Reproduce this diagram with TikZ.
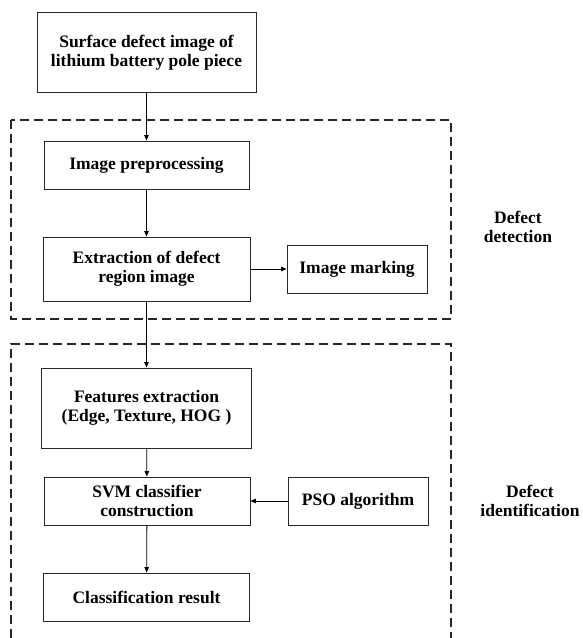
\documentclass[tikz,border=0pt]{standalone}
\usepackage{fontspec}
\setmainfont{Liberation Serif}
\usetikzlibrary{arrows.meta,positioning}

\begin{document}
\begin{tikzpicture}[
  x=1pt, y=-1pt,
  font=\bfseries\fontsize{17.5}{19.5}\selectfont,
  >={Triangle[length=5.5pt,width=4.5pt]},
  blk/.style={
    draw=black!85,
    line width=0.9pt,
    align=center,
    inner sep=2pt,
  },
  frame/.style={
    draw=black!85,
    line width=1.4pt,
    dash pattern=on 9pt off 5pt,
  },
  link/.style={
    ->,
    line width=0.8pt,
  },
]
  \useasboundingbox (0,0) rectangle (583,638);

  % dashed groups
  \draw[frame] (11,120) rectangle (451,319);
  \draw[frame] (11,638) |- (451,344) -- (451,638);

  \node[blk, minimum width=219pt, minimum height=80pt] (src) at (146.5,52.5)
    {Surface defect image of\\lithium battery pole piece};
  \node[blk, minimum width=205pt, minimum height=48pt] (pre) at (146.5,165)
    {Image preprocessing};
  \node[blk, minimum width=207pt, minimum height=64pt] (ext) at (146.5,269)
    {Extraction of defect\\region image};
  \node[blk, minimum width=140pt, minimum height=48pt] (mark) at (357,269)
    {Image marking};
  \node[align=center] (det) at (518,227) {Defect\\detection};

  \node[blk, minimum width=210pt, minimum height=80pt] (feat) at (146.5,408)
    {Features extraction\\(Edge, Texture, HOG )};
  \node[blk, minimum width=206pt, minimum height=48pt] (svm) at (147,501)
    {SVM classifier\\construction};
  \node[blk, minimum width=140pt, minimum height=48pt] (pso) at (358,501)
    {PSO algorithm};
  \node[blk, minimum width=206pt, minimum height=48pt] (cls) at (146.5,597)
    {Classification result};
  \node[align=center] (idf) at (530,501) {Defect\\identification};

  \draw[link] (src) -- (pre);
  \draw[link] (pre) -- (ext);
  \draw[link] (ext) -- (mark);
  \draw[link] (ext) -- (feat);
  \draw[link] (feat) -- (svm);
  \draw[link] (pso) -- (svm);
  \draw[link] (svm) -- (cls);

\end{tikzpicture}
\end{document}
